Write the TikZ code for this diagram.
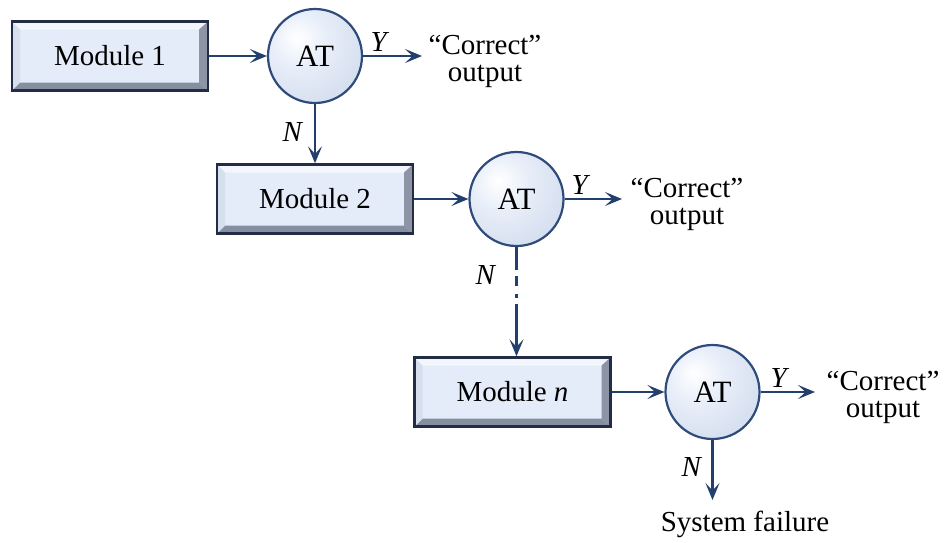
\documentclass[tikz,border=0pt]{standalone}
\usepackage{fontspec}
\setmainfont{Liberation Serif}
\usetikzlibrary{arrows.meta,calc}
\definecolor{navy}{HTML}{233F6E}
\definecolor{boxborder}{HTML}{222D45}
\definecolor{boxfill}{HTML}{E4ECFA}
\definecolor{bevtopc}{HTML}{F3F6FC}
\definecolor{bevleftc}{HTML}{D6DFEE}
\definecolor{bevrightc}{HTML}{8C94A5}
\definecolor{bevbotc}{HTML}{868FA2}
\definecolor{atA}{HTML}{E9EFF9}
\definecolor{atB}{HTML}{D3DDEE}
\definecolor{atC}{HTML}{ABB6C9}
\definecolor{atD}{HTML}{7E8AA2}
\definecolor{atborder}{HTML}{2E4B7C}
\pgfdeclareradialshading{atshade}{\pgfpoint{-10bp}{10bp}}{%
  color(0bp)=(white); color(14bp)=(atA); color(36bp)=(atB);
  color(53bp)=(atC); color(64bp)=(atD); color(100bp)=(atD)}
\tikzset{
  modbox/.style={rectangle, minimum width=98pt, minimum height=34.5pt,
    inner sep=0pt, fill=boxfill,
    path picture={
      \fill[bevtopc] (path picture bounding box.north west) -- (path picture bounding box.north east)
        -- ($(path picture bounding box.north east)+(-4pt,-4pt)$) -- ($(path picture bounding box.north west)+(4pt,-4pt)$) -- cycle;
      \fill[bevrightc] (path picture bounding box.north east) -- (path picture bounding box.south east)
        -- ($(path picture bounding box.south east)+(-4.5pt,4pt)$) -- ($(path picture bounding box.north east)+(-4.5pt,-4pt)$) -- cycle;
      \fill[bevbotc] (path picture bounding box.south east) -- (path picture bounding box.south west)
        -- ($(path picture bounding box.south west)+(4pt,4pt)$) -- ($(path picture bounding box.south east)+(-4.5pt,4pt)$) -- cycle;
      \fill[bevleftc] (path picture bounding box.south west) -- (path picture bounding box.north west)
        -- ($(path picture bounding box.north west)+(4pt,-4pt)$) -- ($(path picture bounding box.south west)+(4pt,4pt)$) -- cycle;
    },
    draw=boxborder, line width=1.2pt},
  atnode/.style={circle, minimum size=47pt, inner sep=0pt, shading=atshade,
    draw=atborder, line width=1.1pt, font=\fontsize{15.5}{16}\selectfont},
  outlbl/.style={align=center, inner sep=0pt},
  ilbl/.style={inner sep=0pt},
  conn/.style={draw=navy, line width=1.1pt,
    -{Stealth[length=8.5pt, width=7pt, inset=3.8pt]}},
}
\begin{document}
\begin{tikzpicture}[x=0.5pt, y=-0.5pt, font=\fontsize{14.5}{13.5}\selectfont]
\useasboundingbox (0,0) rectangle (944,542);

% row 1
\node[modbox] (m1) at (110,56) {Module 1};
\node[atnode] (a1) at (315,56) {AT};
\node[outlbl] (o1) at (485,61) {“Correct”\\output};
\coordinate (y1) at (422,56);
\node[ilbl] (ly1) at (380,42) {\textit{Y}};
\node[ilbl] (ln1) at (293,132) {\textit{N}};

% row 2
\node[modbox] (m2) at (315,199) {Module 2};
\node[atnode] (a2) at (516.5,199) {AT};
\node[outlbl] (o2) at (687,204) {“Correct”\\output};
\coordinate (y2) at (622,199);
\node[ilbl] (ly2) at (581,185) {\textit{Y}};
\node[ilbl] (ln2) at (486,275) {\textit{N}};

% row 3
\node[modbox] (mn) at (512.5,392) {Module \textit{n}};
\node[atnode] (a3) at (712.5,392) {AT};
\node[outlbl] (o3) at (883,397) {“Correct”\\output};
\coordinate (y3) at (815,392);
\node[ilbl] (ly3) at (780,378) {\textit{Y}};
\node[ilbl] (ln3) at (692,467) {\textit{N}};
\coordinate (f3) at (712.5,500);
\node (sf) at (745,524) {System failure};

% connectors
\draw[conn] (m1) -- (a1);
\draw[conn] (a1) -- (y1);
\draw[conn] (a1) -- (m2);
\draw[conn] (m2) -- (a2);
\draw[conn] (a2) -- (y2);
\draw[conn, dash pattern=on 11.5pt off 3pt on 5pt off 4pt on 2pt off 3pt on 80pt off 1pt]
  (a2.south) -- (a2.south |- mn.north);
\draw[conn] (mn) -- (a3);
\draw[conn] (a3) -- (y3);
\draw[conn] (a3) -- (f3);
\end{tikzpicture}
\end{document}
